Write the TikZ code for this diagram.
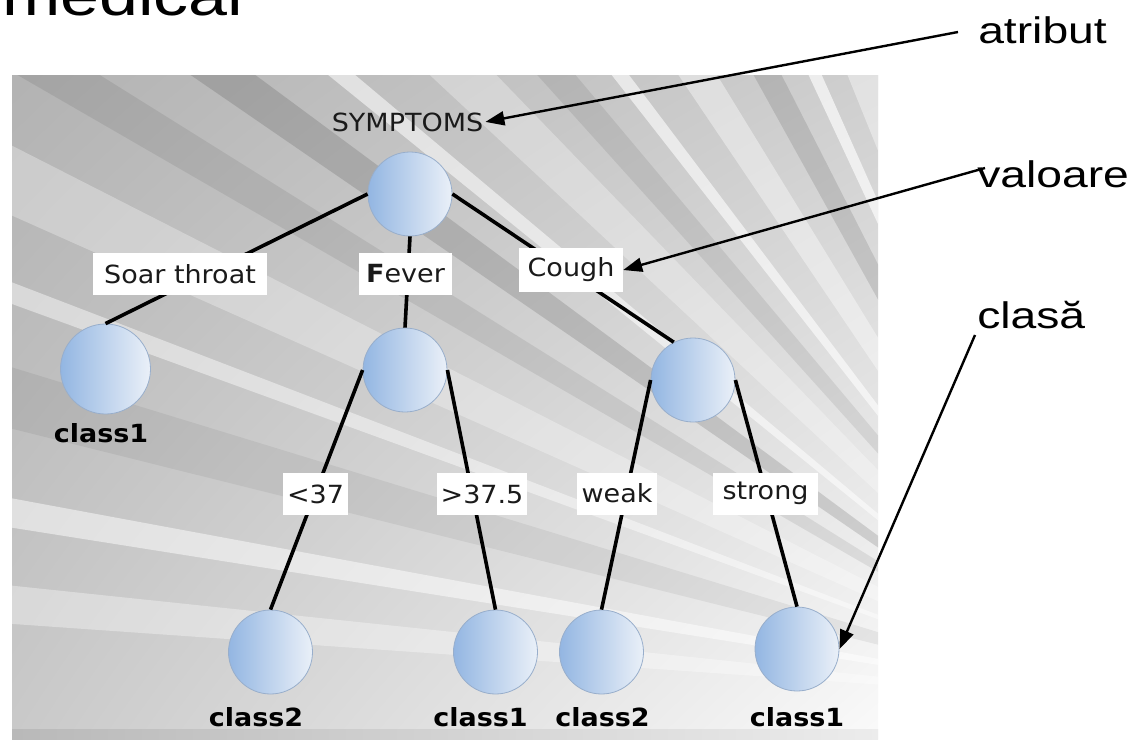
\documentclass[tikz,border=0pt]{standalone}
\usepackage{fontspec}
\setmainfont[FakeStretch=1.08]{DejaVu Sans}
\newfontfamily\slidefont{Liberation Sans}
\usetikzlibrary{arrows.meta,calc,shadings}
\definecolor{cdark}{HTML}{1A1A1A}
\definecolor{cblue}{HTML}{93B6E2}
\definecolor{clight}{HTML}{EAF0F8}
\definecolor{cborder}{HTML}{98AECB}
\tikzset{
  treenode/.style={circle, minimum size=84pt, inner sep=0pt, draw=cborder, line width=0.8pt, left color=cblue, right color=clight},
  treeedge/.style={line width=3.6pt, black},
  edgelbl/.style={fill=white, minimum height=42pt, inner sep=0pt, text=cdark, font=\fontsize{25}{30}\selectfont},
  clslbl/.style={anchor=base, inner sep=0pt, font=\bfseries\fontsize{25}{30}\selectfont},
  slidetxt/.style={anchor=base west, inner sep=0pt, xscale=1.25, font=\slidefont\fontsize{37}{44}\selectfont},
  annarrow/.style={line width=2.4pt, -{Triangle[length=19pt,width=14pt]}}
}
\begin{document}
\begin{tikzpicture}[x=1pt,y=-1pt]
\useasboundingbox (0,0) rectangle (1142,739);
\fill[white] (0,0) rectangle (1142,739);
% title fragment (cut off at the top edge, as in the reference)
\node[anchor=base west, inner sep=0pt, xscale=1.25, font=\slidefont\fontsize{56}{60}\selectfont] (title) at (2,15) {medical};
% panel
\shade[upper left=gray!60, upper right=gray!38, lower left=gray!42, lower right=gray!4] (12,75) rectangle (878,739);
\begin{scope}
\clip (12,75) rectangle (878,739);
\coordinate (F) at (1100,700);
\foreach \a/\b/\c/\o in {
 184/186/white/0.35, 189/190.5/white/0.5, 194/197/black/0.06,
 200/201/white/0.45, 204/207/white/0.3, 210/212/black/0.08,
 214.5/216.5/black/0.13, 219/220/white/0.55, 223/226/white/0.3,
 228/230/black/0.08, 232/233/white/0.6, 236/238.5/white/0.4,
 241/243/black/0.11, 245/246/white/0.65, 248/251/white/0.4,
 253/255/black/0.10, 257/258/white/0.6, 260/262/white/0.45,
 264/266/black/0.08, 268/269/white/0.55}
  \fill[\c, fill opacity=\o] (F) -- ($(F)+(\a:2200)$) -- ($(F)+(\b:2200)$) -- cycle;
\end{scope}
\shade[left color=gray!55, right color=gray!15] (12,729) rectangle (878,739);
% tree nodes
\node[treenode] (root) at (410,194) {};
\node[treenode, minimum size=90pt] (l1) at (105.5,369) {};
\node[treenode] (fev) at (405,370) {};
\node[treenode] (cou) at (693,380) {};
\node[treenode] (c2a) at (270.5,652) {};
\node[treenode] (c1a) at (495.5,652) {};
\node[treenode] (c2b) at (601.5,652) {};
\node[treenode] (c1b) at (797,649) {};
% edges
\draw[treeedge] (root.west) -- (l1.north);
\draw[treeedge] (root.south) -- (fev.north);
\draw[treeedge] (root.east) -- (cou.117);
\draw[treeedge] (fev.west) -- (c2a.north);
\draw[treeedge] (fev.east) -- (c1a.north);
\draw[treeedge] (cou.west) -- (c2b.north);
\draw[treeedge] (cou.east) -- (c1b.north);
% edge labels
\node[edgelbl, minimum width=174pt] (lsoar) at (180,274) {Soar throat};
\node[edgelbl, minimum width=93pt] (lfev) at (405.5,274) {{\bfseries F}ever};
\node[edgelbl, minimum width=104pt, minimum height=44pt] (lcou) at (571,270) {Cough};
\node[edgelbl, minimum width=65pt] (llt) at (315.5,494) {<37};
\node[edgelbl, minimum width=90pt] (lgt) at (482,494) {>37.5};
\node[edgelbl, minimum width=80pt] (lweak) at (617,493.5) {weak};
\node[edgelbl, minimum width=105pt] (lstrong) at (765.5,493.5) {strong};
% attribute and class labels
\node[anchor=base, inner sep=2pt, text=cdark, font=\fontsize{25}{30}\selectfont] (symp) at (407.5,131) {SYMPTOMS};
\node[clslbl] (t1) at (101,442) {class1};
\node[clslbl] (t2) at (256,726) {class2};
\node[clslbl] (t3) at (480.5,726) {class1};
\node[clslbl] (t4) at (602.5,726) {class2};
\node[clslbl] (t5) at (797,726) {class1};
% slide annotations
\node[slidetxt] (atr) at (978,43) {atribut};
\node[slidetxt] (val) at (977,187) {valoare};
\node[slidetxt] (cls) at (977,328) {clasă};
\coordinate (a1) at (958,32);
\coordinate (a2) at (985,168);
\coordinate (a3) at (975,335);
\draw[annarrow] (a1) -- (symp.east);
\draw[annarrow] (a2) -- (lcou.east);
\draw[annarrow] (a3) -- (c1b.east);
\end{tikzpicture}
\end{document}
